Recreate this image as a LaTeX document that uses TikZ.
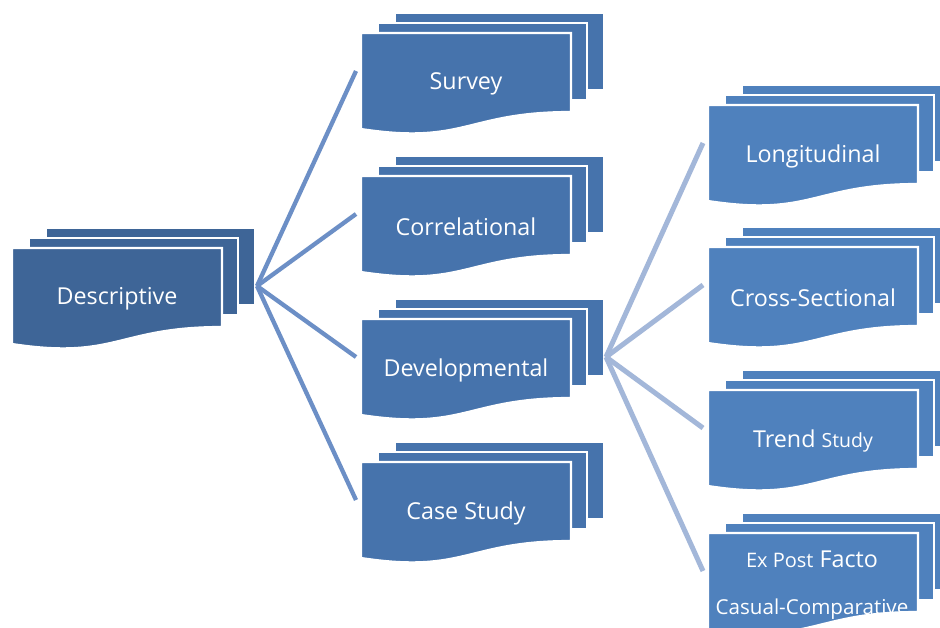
\documentclass[tikz,border=0pt]{standalone}
\usepackage{fontspec}
\setmainfont{Open Sans}
\definecolor{cdesc}{HTML}{3E6597}
\definecolor{cmid}{HTML}{4673AC}
\definecolor{cright}{HTML}{4F81BD}
\definecolor{lnA}{HTML}{6C8FC6}
\definecolor{lnB}{HTML}{A3B7D9}
\tikzset{
  sheet/.style={draw=white, line width=2.2pt},
  txt/.style={text=white, font=\fontsize{23.3}{27}\selectfont, align=center, inner sep=0pt},
  conA/.style={draw=lnA, line width=4.3pt},
  conB/.style={draw=lnB, line width=5pt},
}
% #1 name, #2 left, #3 top, #4 colour, #5 text
\newcommand\mdoc[5]{%
  \fill[#4, sheet] (#2+34,#3-20) rectangle (#2+243,#3+57);
  \fill[#4, sheet] (#2+17,#3-10) rectangle (#2+226,#3+67);
  \fill[#4, sheet] (#2,#3) -- (#2+210,#3) -- (#2+210,#3+79)
     .. controls (#2+105,#3+79) and (#2+105,#3+112) .. (#2,#3+96) -- cycle;
  \node[txt] (#1) at (#2+105,#3+51) {#5};
  \coordinate (#1-l) at (#2-5,#3+38);
  \coordinate (#1-r) at (#2+245,#3+38);
}
\begin{document}
\begin{tikzpicture}[x=1pt,y=-1pt]
\useasboundingbox (0,0) rectangle (940,628);
\clip (0,0) rectangle (940,628);
\fill[white] (0,0) rectangle (940,628);

\mdoc{desc}{12}{248}{cdesc}{Descriptive}
\mdoc{surv}{361}{33}{cmid}{Survey}
\mdoc{corr}{361}{176}{cmid}{Correlational}
\mdoc{devl}{361}{319}{cmid}{Developmental}
\mdoc{case}{361}{462}{cmid}{Case Study}
\mdoc{long}{708}{105}{cright}{Longitudinal}
\mdoc{cros}{708}{247}{cright}{Cross-Sectional}
\mdoc{trnd}{708}{390}{cright}{Trend {\fontsize{19.5}{22}\selectfont Study}}
\mdoc{expf}{708}{533}{cright}{}
\node[txt] (expfa) at (812,559) {{\fontsize{20}{22}\selectfont Ex Post} Facto};
\node[txt, font=\fontsize{20.6}{24}\selectfont] (expfb) at (812,609) {Casual-Comparative};

\draw[conA] (desc-r) -- (surv-l);
\draw[conA] (desc-r) -- (corr-l);
\draw[conA] (desc-r) -- (devl-l);
\draw[conA] (desc-r) -- (case-l);
\draw[conB] (devl-r) -- (long-l);
\draw[conB] (devl-r) -- (cros-l);
\draw[conB] (devl-r) -- (trnd-l);
\draw[conB] (devl-r) -- (expf-l);
\end{tikzpicture}
\end{document}
